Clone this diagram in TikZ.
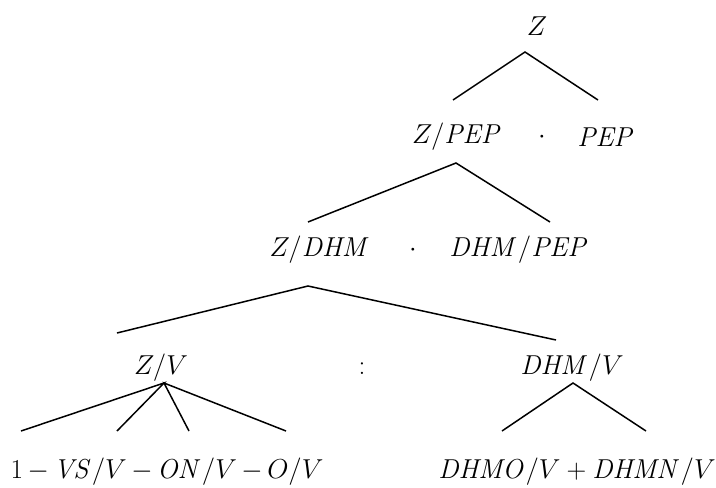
\documentclass[tikz,border=0pt]{standalone}
\usepackage{amsmath}
\usepackage{graphicx}
\newcommand{\lbltext}[1]{\scalebox{1.1}{\fontsize{25}{30}\selectfont #1}}
\begin{document}
\begin{tikzpicture}[x=1pt,y=-1pt,
  lbl/.style={inner sep=0pt,anchor=center},
  br/.style={line width=1.5pt}]
\useasboundingbox (0,0) rectangle (716,488);
% row 1
\node[lbl] (z) at (537,26) {\lbltext{$Z$}};
\coordinate (za) at (525,52);
\coordinate (zl) at (453,100);
\coordinate (zr) at (598,100);
\draw[br] (zl) -- (za) -- (zr);
% row 2
\node[lbl] (zpep) at (457,137) {\lbltext{$Z/\mathit{PEP}$}};
\node[lbl] (dot1) at (542,137) {\lbltext{$\cdot$}};
\node[lbl] (pep) at (606,137) {\lbltext{$\mathit{PEP}$}};
\coordinate (pa) at (456,163);
\coordinate (pl) at (308,222);
\coordinate (pr) at (550,222);
\draw[br] (pl) -- (pa) -- (pr);
% row 3
\node[lbl] (zdhm) at (320,250) {\lbltext{$Z/\mathit{DHM}$}};
\node[lbl] (dot2) at (413,250) {\lbltext{$\cdot$}};
\node[lbl] (dhmpep) at (519,250) {\lbltext{$\mathit{DHM}/\mathit{PEP}$}};
\coordinate (da) at (308,286);
\coordinate (dl) at (117,333);
\coordinate (dr) at (556,340);
\draw[br] (dl) -- (da) -- (dr);
% row 4
\node[lbl] (zv) at (161,368) {\lbltext{$Z/V$}};
\node[lbl] (colon) at (362,369) {\lbltext{$:$}};
\node[lbl] (dhmv) at (572,368) {\lbltext{$\mathit{DHM}/V$}};
\coordinate (va) at (164,383);
\coordinate (v1) at (21,431);
\coordinate (v2) at (117,431);
\coordinate (v3) at (189,431);
\coordinate (v4) at (286,431);
\draw[br] (v1) -- (va) -- (v2);
\draw[br] (v3) -- (va) -- (v4);
\coordinate (ha) at (573,383);
\coordinate (hl) at (502,431);
\coordinate (hr) at (646,431);
\draw[br] (hl) -- (ha) -- (hr);
% row 5
\node[lbl] (sum1) at (167,472) {\lbltext{$\medmuskip=3mu 1-\mathit{VS}/V-\mathit{ON}/V-O/V$}};
\node[lbl] (sum2) at (577,472) {\lbltext{$\mathit{DHMO}/V+\mathit{DHMN}/V$}};
\end{tikzpicture}
\end{document}
